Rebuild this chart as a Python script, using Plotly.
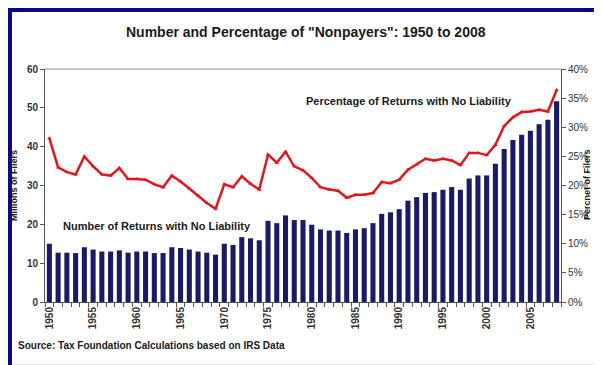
import plotly.graph_objects as go

years = list(range(1950, 2009))
nonpayers_millions = [
    15.0, 12.7, 12.7, 12.6, 14.1, 13.5, 13.0, 13.0, 13.3, 12.7,
    13.0, 13.0, 12.6, 12.6, 14.1, 13.9, 13.5, 13.0, 12.7, 12.2,
    15.0, 14.7, 16.7, 16.4, 15.9, 20.9, 20.3, 22.3, 21.1, 21.1,
    19.9, 18.7, 18.4, 18.4, 17.8, 18.7, 19.0, 20.3, 22.7, 23.1,
    23.9, 26.1, 27.0, 28.1, 28.3, 28.9, 29.6, 28.9, 31.8, 32.6,
    32.6, 35.6, 39.4, 41.7, 43.1, 44.1, 45.8, 46.9, 51.7,
]
nonpayers_pct = [
    28.1, 23.1, 22.3, 21.9, 25.0, 23.3, 21.9, 21.7, 23.0, 21.1,
    21.1, 21.0, 20.2, 19.7, 21.7, 20.7, 19.5, 18.3, 17.0, 16.0,
    20.2, 19.7, 21.6, 20.3, 19.3, 25.3, 23.9, 25.8, 23.3, 22.6,
    21.3, 19.7, 19.3, 19.1, 17.9, 18.4, 18.4, 18.7, 20.6, 20.4,
    21.0, 22.7, 23.6, 24.6, 24.3, 24.6, 24.3, 23.5, 25.6, 25.6,
    25.2, 27.0, 30.2, 31.7, 32.6, 32.7, 33.0, 32.7, 36.4,
]
year_ticks = list(range(1950, 2006, 5))

FONT = "Liberation Sans, Arial, sans-serif"
NAVY = "#1a1a66"
RED = "#e3161c"

fig = go.Figure()
fig.add_trace(go.Bar(x=years, y=nonpayers_millions, marker_color=NAVY,
                     marker_line_width=0, name="Number", yaxis="y"))
fig.add_trace(go.Scatter(x=years, y=nonpayers_pct, mode="lines+markers",
                         line=dict(color=RED, width=2.5),
                         marker=dict(color=RED, size=4, symbol="triangle-up"),
                         name="Percentage", yaxis="y2"))

# plot area: x 37..553, y 61..294 px
L, R, T, B = 37, 49, 61, 71
W, H = 602, 365
pw, ph = W - L - R, H - T - B

def px(xp):
    return (xp - L) / pw

def py(yp):
    return (H - B - yp) / ph

shapes = [
    dict(type="rect", xref="paper", yref="paper", x0=px(4), x1=px(594),
         y0=py(359), y1=py(4), fillcolor="white", line_width=0, layer="below"),
    dict(type="line", xref="paper", yref="paper", x0=px(4), x1=px(594),
         y0=py(357.5), y1=py(357.5), line=dict(color="#9a9a9a", width=1.5)),
    dict(type="line", xref="paper", yref="paper", x0=0, x1=1, y0=1, y1=1,
         line=dict(color="#8a8a8a", width=1)),
]

annotations = [
    dict(text="Number and Percentage of \"Nonpayers\": 1950 to 2008",
         xref="paper", yref="paper", x=px(298), y=py(24), showarrow=False,
         font=dict(family=FONT, size=14, color="#1a1a1a"), xanchor="center", yanchor="middle"),
    dict(text="Millions of Filers", xref="paper", yref="paper", x=px(6), y=py(178),
         textangle=-90, showarrow=False, font=dict(family=FONT, size=9, color="#1a1a1a"),
         xanchor="center", yanchor="middle"),
    dict(text="Percnet of Filers", xref="paper", yref="paper", x=px(579), y=py(177),
         textangle=-90, showarrow=False, font=dict(family=FONT, size=9, color="#1a1a1a"),
         xanchor="center", yanchor="middle"),
    dict(text="Source: Tax Foundation Calculations based on IRS Data",
         xref="paper", yref="paper", x=px(8), y=py(337), showarrow=False,
         font=dict(family=FONT, size=10, color="#1a1a1a"), xanchor="left", yanchor="middle"),
    dict(text="Percentage of Returns with No Liability", xref="paper", yref="paper",
         x=px(296), y=py(93), showarrow=False,
         font=dict(family=FONT, size=11, color="#1a1a1a"), xanchor="left", yanchor="middle"),
    dict(text="Number of Returns with No Liability", xref="paper", yref="paper",
         x=px(53), y=py(218), showarrow=False,
         font=dict(family=FONT, size=11, color="#1a1a1a"), xanchor="left", yanchor="middle"),
]
for a in annotations:
    a["text"] = "<b>" + a["text"] + "</b>"

tickfont = dict(family=FONT, size=10, color="#333333")

fig.update_layout(
    width=W, height=H,
    margin=dict(l=L, r=R, t=T, b=B, pad=0),
    paper_bgcolor="#0a0a80",
    plot_bgcolor="white",
    showlegend=False,
    bargap=0.42,
    shapes=shapes,
    annotations=annotations,
    xaxis=dict(range=[1949.5, 2008.5], tickmode="array", tickvals=year_ticks,
               ticktext=["<b>%d</b>" % y for y in year_ticks], tickangle=-90,
               ticks="", showline=True, linecolor="#555555", linewidth=1,
               showgrid=False, zeroline=False, tickfont=tickfont,
               minor=dict(ticks="outside", tickmode="linear", tick0=1949.5, dtick=1,
                          ticklen=4, tickcolor="#555555", showgrid=False)),
    yaxis=dict(range=[0, 60], tickmode="linear", tick0=0, dtick=10,
               ticks="outside", ticklen=4, tickcolor="#555555",
               showline=True, linecolor="#555555", linewidth=1,
               showgrid=False, zeroline=False, tickfont=tickfont,
               tickprefix="<b>", ticksuffix="</b>"),
    yaxis2=dict(range=[0, 40], tickmode="linear", tick0=0, dtick=5,
                overlaying="y", side="right", ticks="outside", ticklen=4,
                tickcolor="#555555", showline=True, linecolor="#555555", linewidth=1,
                showgrid=False, zeroline=False, tickfont=tickfont,
                ticksuffix="%"),
)

fig.write_html("out.html")
